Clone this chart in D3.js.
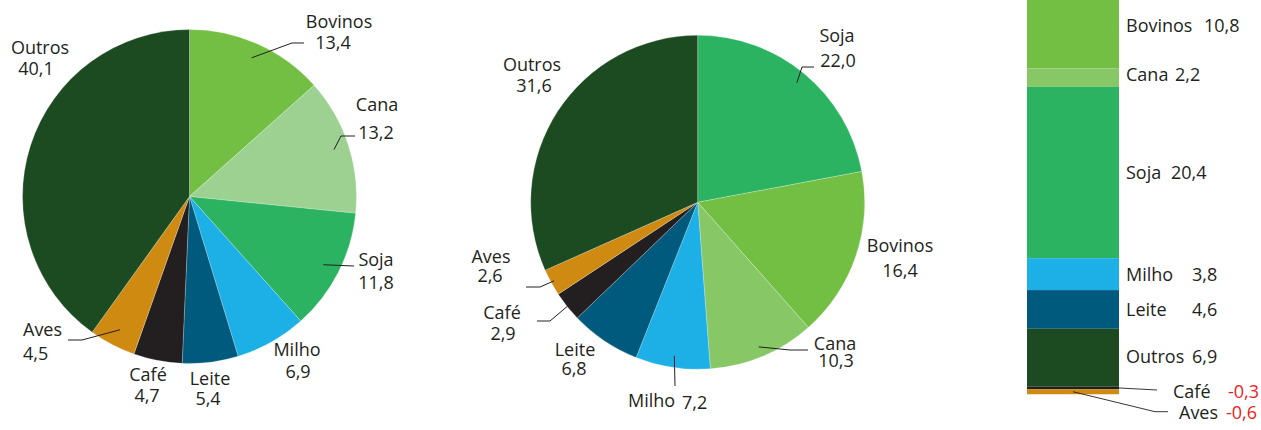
<!DOCTYPE html>
<html><head><meta charset="utf-8">
<script src="https://cdn.jsdelivr.net/npm/d3@7"></script>
<style>body{margin:0;background:#fff}svg{display:block}text{font-family:"Open Sans",sans-serif;font-size:18px;fill:#231f20}</style>
</head><body>
<svg id="c" width="1261" height="430"></svg>
<script>
// ---------- data ----------
const pie1Categories = ["Bovinos","Cana","Soja","Milho","Leite","Café","Aves","Outros"];
const pie1Values     = [13.4, 13.2, 11.8, 6.9, 5.4, 4.7, 4.5, 40.1];
const pie1Labels     = ["13,4","13,2","11,8","6,9","5,4","4,7","4,5","40,1"];

const pie2Categories = ["Soja","Bovinos","Cana","Milho","Leite","Café","Aves","Outros"];
const pie2Values     = [22.0, 16.4, 10.3, 7.2, 6.8, 2.9, 2.6, 31.6];
const pie2Labels     = ["22,0","16,4","10,3","7,2","6,8","2,9","2,6","31,6"];

const barCategories  = ["Bovinos","Cana","Soja","Milho","Leite","Outros","Café","Aves"];
const barValues      = [10.8, 2.2, 20.4, 3.8, 4.6, 6.9, -0.3, -0.6];
const barLabels      = ["10,8","2,2","20,4","3,8","4,6","6,9","-0,3","-0,6"];

// ---------- styles ----------
const colors = {Bovinos:"#72bf44", Cana:"#88c766", Soja:"#2bb361", Milho:"#1cb0e6",
  Leite:"#005a7e", "Café":"#231f20", Aves:"#cf8a12", Outros:"#1d4b21"};
const pie1Colors = Object.assign({}, colors, {Cana:"#9dd191"});

const svg = d3.select("#c");
const R = 167;

const pie1Layout = {
  Bovinos:{n:[339,28],v:[333,49],a:"middle",lead:{f:0.91,pts:[[292,43],[304,43]]}},
  Cana:{n:[377,111],v:[376,139],a:"middle",lead:{f:0.91,pts:[[341,136],[355,136]]}},
  Soja:{n:[376,266],v:[376,289],a:"middle",lead:{f:0.9,pts:[[354,266]]}},
  Milho:{n:[297,356],v:[298,378],a:"middle"},
  Leite:{n:[210,385],v:[208,405],a:"middle"},
  "Café":{n:[148,381],v:[147,402],a:"middle"},
  Aves:{n:[23,336],v:[23,360],a:"start",lead:{f:0.9,pts:[[82,340],[68,340]]}},
  Outros:{n:[40,54],v:[36,75],a:"middle"}
};
const pie2Layout = {
  Soja:{n:[837,42],v:[838,67],a:"middle",lead:{f:0.93,pts:[[802,67],[814,67]]}},
  Bovinos:{n:[900,252],v:[900,277],a:"middle"},
  Cana:{n:[835,350],v:[836,367],a:"middle",lead:{f:0.94,pts:[[790,350],[808,350]]}},
  Milho:{n:[628,407],v:[682,409],a:"start",va:"start",lead:{f:0.93,pts:[[675,386]]}},
  Leite:{n:[575,356],v:[574,375],a:"middle"},
  "Café":{n:[502,319],v:[503,340],a:"middle",lead:{f:1.0,pts:[[550,321],[537,321]]}},
  Aves:{n:[491,263],v:[490,282],a:"middle",lead:{f:0.98,pts:[[540,287],[526,287]]}},
  Outros:{n:[532,71],v:[534,92],a:"middle"}
};

function drawPie(cx, cy, cats, vals, labels, cols, layout){
  const data = cats.map((c,i)=>({cat:c, value:vals[i], label:labels[i]}));
  const arcs = d3.pie().sort(null).value(d=>d.value)(data);
  const arc = d3.arc().innerRadius(0).outerRadius(R);
  const g = svg.append("g").attr("transform",`translate(${cx},${cy})`);
  g.selectAll("path.s").data(arcs).join("path").attr("class","s")
    .attr("d",arc).attr("fill",d=>cols[d.data.cat])
    .attr("stroke","#fff").attr("stroke-width",0.4).attr("stroke-opacity",0.6);
  arcs.forEach(a=>{
    const L = layout[a.data.cat];
    if(L.lead){
      const r = R*L.lead.f;
      const p = d3.arc().innerRadius(r).outerRadius(r).centroid(a);
      const pts = [[cx+p[0],cy+p[1]]].concat(L.lead.pts);
      svg.append("path").attr("d",d3.line()(pts)).attr("fill","none")
        .attr("stroke","#231f20").attr("stroke-width",1);
    }
    svg.append("text").attr("x",L.n[0]).attr("y",L.n[1]).attr("text-anchor",L.a).text(a.data.cat);
    svg.append("text").attr("x",L.v[0]).attr("y",L.v[1]).attr("text-anchor",L.va||L.a).text(a.data.label);
  });
}
drawPie(189.5, 196.5, pie1Categories, pie1Values, pie1Labels, pie1Colors, pie1Layout);
drawPie(697.7, 202.3, pie2Categories, pie2Values, pie2Labels, colors, pie2Layout);

// ---------- stacked bar ----------
const posTotal = d3.sum(barValues.filter(v=>v>0));
const y = d3.scaleLinear().domain([0, posTotal]).range([386.7, -22.4]);
const x = d3.scaleBand().domain(["bar"]).range([1027,1119]).padding(0);
let pos = posTotal, neg = 0;
const segs = [];
barValues.forEach((v,i)=>{
  let y0,y1;
  if(v>=0){ y0 = pos - v; y1 = pos; pos -= v; }
  else { y1 = neg; y0 = neg + v; neg += v; }
  segs.push({cat:barCategories[i], label:barLabels[i], v, y0, y1});
});
svg.append("g").selectAll("rect").data(segs).join("rect")
  .attr("x",x("bar")).attr("width",x.bandwidth())
  .attr("y",d=>y(d.y1)).attr("height",d=>y(d.y0)-y(d.y1))
  .attr("fill",d=>colors[d.cat]);

const barLayout = {
  Bovinos:{nx:1126, vx:1204, dy:9.5},
  Cana:{nx:1126, vx:1175, dy:3},
  Soja:{nx:1126, vx:1171, dy:6.5},
  Milho:{nx:1126, vx:1192, dy:7},
  Leite:{nx:1126, vx:1192, dy:7},
  Outros:{nx:1126, vx:1192, dy:5},
  "Café":{nx:1173, vx:1228, ty:398.3, lead:"right", pts:[[1157,390]]},
  Aves:{nx:1179, vx:1226, ty:419.3, lead:"mid", pts:[[1155,411.7],[1168,411.7]]}
};
segs.forEach(s=>{
  const L = barLayout[s.cat];
  const mid = (y(s.y0)+y(s.y1))/2;
  const ty = L.ty !== undefined ? L.ty : mid + L.dy;
  const neg = s.v < 0;
  if(L.lead){
    const sx = L.lead==="right" ? x("bar")+x.bandwidth() : x("bar")+x.bandwidth()*0.5;
    svg.append("path").attr("d",d3.line()([[sx,mid]].concat(L.pts))).attr("fill","none")
      .attr("stroke","#231f20").attr("stroke-width",0.9);
  }
  svg.append("text").attr("x",L.nx).attr("y",ty).text(s.cat);
  svg.append("text").attr("x",L.vx).attr("y",ty).style("fill",neg?"#ed1c24":"#231f20").text(s.label);
});
</script>
</body></html>
